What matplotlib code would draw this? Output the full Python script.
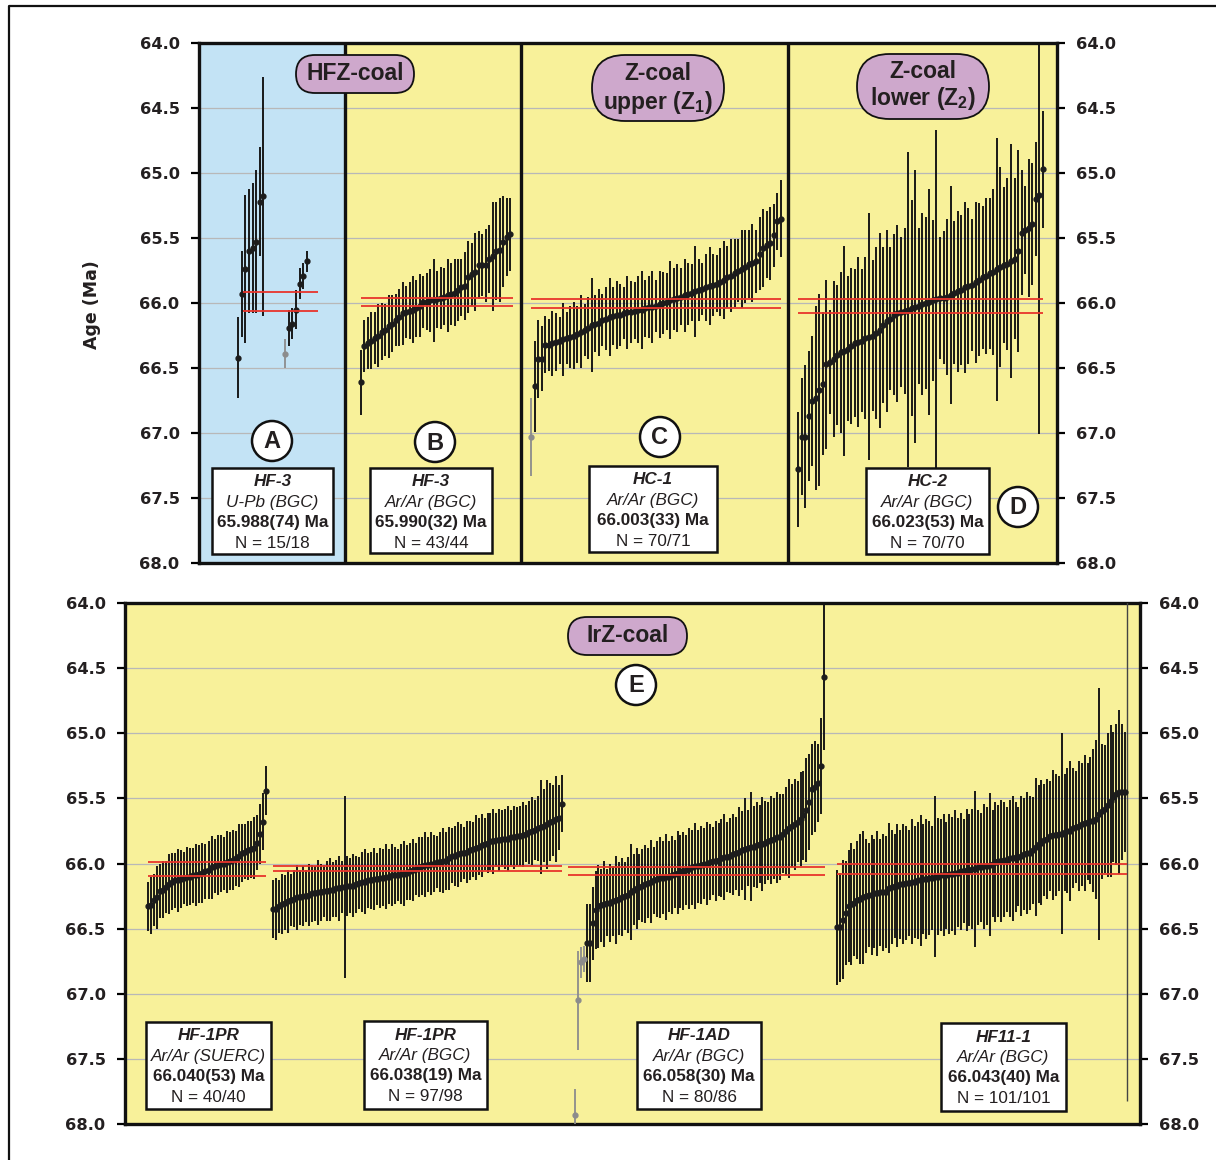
import numpy as np
import matplotlib
matplotlib.use("Agg")
import matplotlib.pyplot as plt
from matplotlib.patches import Rectangle, Circle, FancyBboxPatch

plt.rcParams['font.family'] = ['Liberation Sans', 'DejaVu Sans']
plt.rcParams['mathtext.fontset'] = 'custom'
plt.rcParams['mathtext.rm'] = 'Liberation Sans:bold'
plt.rcParams['mathtext.bf'] = 'Liberation Sans:bold'

# ---------------- data (ages in Ma, 2-sigma style error half-widths) ----------------
# A: HF-3 U-Pb (slot = analysis position in the sequence)
a_slot = [0, 1, 2, 3, 4, 5, 6, 7, 13, 14, 15, 16, 17, 18, 19]
a_age = [66.42, 65.93, 65.74, 65.60, 65.58, 65.53, 65.22, 65.18,
         66.39, 66.19, 66.16, 66.05, 65.85, 65.79, 65.68]
a_err = [0.31, 0.33, 0.57, 0.48, 0.50, 0.55, 0.42, 0.92,
         0.11, 0.14, 0.12, 0.15, 0.12, 0.10, 0.08]
a_rej = [8]

# B: HF-3 Ar/Ar
b_age = [66.61, 66.33, 66.31, 66.29, 66.27, 66.25, 66.22, 66.21, 66.18, 66.16,
         66.13, 66.11, 66.08, 66.07, 66.06, 66.05, 66.04, 66.02, 65.99, 65.99,
         65.98, 65.98, 65.97, 65.96, 65.95, 65.94, 65.93, 65.92, 65.90, 65.88,
         65.87, 65.80, 65.78, 65.76, 65.71, 65.71, 65.71, 65.66, 65.64, 65.60,
         65.59, 65.53, 65.49, 65.47]
b_err = [0.25, 0.20, 0.20, 0.22, 0.20, 0.24, 0.22, 0.20, 0.24, 0.22,
         0.20, 0.22, 0.24, 0.20, 0.22, 0.26, 0.22, 0.24, 0.20, 0.22,
         0.24, 0.32, 0.22, 0.24, 0.22, 0.28, 0.24, 0.26, 0.24, 0.22,
         0.26, 0.28, 0.24, 0.30, 0.26, 0.24, 0.28, 0.26, 0.42, 0.38,
         0.40, 0.35, 0.30, 0.28]

# C: HC-1 Ar/Ar
c_age = [67.03, 66.64, 66.43, 66.43, 66.32, 66.32, 66.31, 66.30, 66.29, 66.28,
         66.27, 66.26, 66.25, 66.24, 66.22, 66.21, 66.19, 66.17, 66.16, 66.15,
         66.13, 66.12, 66.11, 66.10, 66.09, 66.09, 66.08, 66.07, 66.07, 66.06,
         66.05, 66.05, 66.04, 66.03, 66.03, 66.02, 66.01, 66.00, 65.99, 65.98,
         65.97, 65.96, 65.95, 65.94, 65.93, 65.92, 65.91, 65.90, 65.89, 65.88,
         65.87, 65.86, 65.85, 65.84, 65.82, 65.80, 65.79, 65.77, 65.75, 65.74,
         65.72, 65.70, 65.69, 65.68, 65.62, 65.58, 65.55, 65.54, 65.48, 65.37,
         65.35]
c_err = [0.30, 0.35, 0.30, 0.25, 0.22, 0.20, 0.25, 0.22, 0.18, 0.28,
         0.20, 0.24, 0.26, 0.22, 0.28, 0.20, 0.24, 0.36, 0.22, 0.26,
         0.20, 0.24, 0.30, 0.22, 0.26, 0.24, 0.20, 0.28, 0.24, 0.22,
         0.26, 0.30, 0.22, 0.24, 0.28, 0.20, 0.26, 0.24, 0.22, 0.30,
         0.24, 0.26, 0.22, 0.28, 0.24, 0.22, 0.35, 0.24, 0.20, 0.26,
         0.30, 0.24, 0.22, 0.26, 0.30, 0.24, 0.28, 0.26, 0.24, 0.30,
         0.28, 0.26, 0.30, 0.24, 0.28, 0.30, 0.26, 0.28, 0.24, 0.22, 0.30]
c_rej = [0]

# D: HC-2 Ar/Ar
d_age = [67.28, 67.03, 67.03, 66.87, 66.75, 66.73, 66.67, 66.62, 66.47, 66.45,
         66.43, 66.40, 66.38, 66.37, 66.35, 66.33, 66.31, 66.30, 66.29, 66.27,
         66.26, 66.25, 66.23, 66.21, 66.17, 66.14, 66.12, 66.09, 66.08, 66.07,
         66.06, 66.05, 66.04, 66.03, 66.02, 66.01, 66.00, 65.99, 65.98, 65.97,
         65.96, 65.96, 65.95, 65.94, 65.92, 65.91, 65.90, 65.88, 65.87, 65.86,
         65.84, 65.82, 65.80, 65.79, 65.77, 65.76, 65.74, 65.72, 65.71, 65.70,
         65.68, 65.66, 65.60, 65.46, 65.44, 65.42, 65.39, 65.20, 65.17, 64.97]
d_err = [0.44, 0.45, 0.55, 0.50, 0.50, 0.71, 0.74, 0.55, 0.65, 0.40,
         0.60, 0.54, 0.62, 0.81, 0.56, 0.60, 0.57, 0.65, 0.55, 0.62,
         0.95, 0.58, 0.66, 0.75, 0.60, 0.70, 0.55, 0.62, 0.68, 0.58,
         0.64, 1.21, 0.83, 1.05, 0.60, 0.70, 0.66, 0.87, 0.62, 1.30,
         0.47, 0.51, 0.60, 0.84, 0.55, 0.62, 0.58, 0.66, 0.60, 0.51,
         0.62, 0.59, 0.55, 0.60, 0.58, 0.64, 1.01, 0.77, 0.60, 0.66,
         0.90, 0.62, 0.78, 0.48, 0.34, 0.53, 0.47, 0.44, 1.84, 0.45]

# E1: HF-1PR Ar/Ar (SUERC)
e1_age = [66.33, 66.32, 66.28, 66.26, 66.21, 66.20, 66.18, 66.16, 66.14, 66.13,
          66.13, 66.12, 66.11, 66.10, 66.10, 66.09, 66.09, 66.08, 66.07, 66.06,
          66.05, 66.03, 66.02, 66.01, 66.00, 66.00, 65.99, 65.98, 65.97, 65.96,
          65.94, 65.92, 65.91, 65.90, 65.89, 65.88, 65.84, 65.77, 65.68, 65.44]
e1_err = [0.19, 0.22, 0.20, 0.24, 0.21, 0.22, 0.20, 0.23, 0.22, 0.21,
          0.24, 0.22, 0.20, 0.23, 0.22, 0.21, 0.24, 0.22, 0.23, 0.21,
          0.22, 0.24, 0.21, 0.23, 0.22, 0.20, 0.24, 0.22, 0.23, 0.21,
          0.24, 0.22, 0.21, 0.23, 0.22, 0.24, 0.21, 0.23, 0.22, 0.19]

# E2: HF-1PR Ar/Ar (BGC)
e2_age = [66.35, 66.35, 66.33, 66.31, 66.30, 66.29, 66.28, 66.27, 66.26, 66.26,
          66.25, 66.25, 66.24, 66.23, 66.23, 66.22, 66.22, 66.21, 66.21, 66.20,
          66.20, 66.19, 66.19, 66.18, 66.18, 66.17, 66.17, 66.17, 66.16, 66.15,
          66.14, 66.14, 66.13, 66.13, 66.12, 66.12, 66.11, 66.11, 66.10, 66.10,
          66.09, 66.09, 66.09, 66.08, 66.08, 66.07, 66.06, 66.05, 66.04, 66.03,
          66.02, 66.01, 66.01, 66.00, 66.00, 65.99, 65.99, 65.98, 65.98, 65.96,
          65.94, 65.94, 65.93, 65.92, 65.92, 65.91, 65.90, 65.89, 65.88, 65.87,
          65.86, 65.85, 65.84, 65.83, 65.83, 65.82, 65.82, 65.81, 65.81, 65.81,
          65.80, 65.80, 65.79, 65.79, 65.78, 65.77, 65.76, 65.75, 65.74, 65.73,
          65.72, 65.71, 65.70, 65.68, 65.67, 65.66, 65.65, 65.54]
e2_err = [0.22, 0.24, 0.20, 0.23, 0.21, 0.24, 0.20, 0.22, 0.25, 0.21,
          0.23, 0.20, 0.24, 0.22, 0.21, 0.25, 0.22, 0.20, 0.23, 0.24,
          0.21, 0.22, 0.25, 0.20, 0.70, 0.23, 0.21, 0.24, 0.22, 0.20,
          0.23, 0.25, 0.21, 0.22, 0.24, 0.20, 0.23, 0.22, 0.25, 0.21,
          0.24, 0.22, 0.20, 0.23, 0.25, 0.21, 0.22, 0.24, 0.20, 0.23,
          0.22, 0.25, 0.21, 0.24, 0.22, 0.20, 0.23, 0.25, 0.22, 0.24,
          0.21, 0.23, 0.25, 0.22, 0.20, 0.24, 0.23, 0.21, 0.25, 0.22,
          0.24, 0.20, 0.23, 0.22, 0.25, 0.21, 0.24, 0.22, 0.23, 0.25,
          0.21, 0.24, 0.22, 0.23, 0.25, 0.22, 0.24, 0.26, 0.23, 0.25,
          0.36, 0.28, 0.34, 0.30, 0.27, 0.33, 0.25, 0.22]

# E3: HF-1AD Ar/Ar (BGC)
e3_age = [67.93, 67.05, 66.76, 66.73,
          66.61, 66.61, 66.46, 66.36, 66.33, 66.32, 66.31, 66.30, 66.30, 66.29,
          66.28, 66.27, 66.26, 66.25, 66.24, 66.22, 66.20, 66.19, 66.18, 66.17,
          66.16, 66.15, 66.14, 66.13, 66.12, 66.11, 66.11, 66.10, 66.10, 66.09,
          66.08, 66.07, 66.06, 66.06, 66.05, 66.04, 66.03, 66.02, 66.02, 66.01,
          66.00, 66.00, 65.99, 65.98, 65.98, 65.97, 65.96, 65.95, 65.95, 65.94,
          65.93, 65.92, 65.91, 65.90, 65.89, 65.88, 65.87, 65.87, 65.86, 65.85,
          65.85, 65.84, 65.83, 65.82, 65.81, 65.80, 65.80, 65.77, 65.75, 65.73,
          65.71, 65.70, 65.68, 65.66, 65.63, 65.59, 65.53, 65.43, 65.41, 65.38,
          65.25, 64.57]
e3_err = [0.20, 0.38, 0.12, 0.10,
          0.30, 0.30, 0.28, 0.30, 0.32, 0.28, 0.33, 0.26, 0.30, 0.27,
          0.34, 0.28, 0.30, 0.26, 0.29, 0.37, 0.27, 0.31, 0.25, 0.28,
          0.30, 0.27, 0.32, 0.26, 0.29, 0.31, 0.28, 0.33, 0.27, 0.30,
          0.26, 0.32, 0.28, 0.30, 0.27, 0.31, 0.29, 0.33, 0.28, 0.30,
          0.27, 0.32, 0.29, 0.26, 0.31, 0.28, 0.30, 0.33, 0.27, 0.29,
          0.31, 0.28, 0.34, 0.30, 0.39, 0.29, 0.42, 0.31, 0.33, 0.30,
          0.36, 0.32, 0.30, 0.34, 0.31, 0.35, 0.33, 0.30, 0.34, 0.38,
          0.32, 0.35, 0.31, 0.36, 0.34, 0.40, 0.37, 0.35, 0.35, 0.30,
          0.37, 0.56]
e3_rej = [0, 1, 2, 3]

# E4: HF11-1 Ar/Ar (BGC)
e4_age = [66.49, 66.49, 66.43, 66.38, 66.33, 66.31, 66.30, 66.28, 66.27, 66.26,
          66.25, 66.24, 66.24, 66.23, 66.23, 66.22, 66.22, 66.22, 66.19, 66.18,
          66.17, 66.17, 66.16, 66.16, 66.15, 66.15, 66.14, 66.14, 66.13, 66.13,
          66.12, 66.12, 66.11, 66.11, 66.10, 66.10, 66.09, 66.09, 66.09, 66.08,
          66.08, 66.07, 66.07, 66.06, 66.06, 66.05, 66.05, 66.04, 66.04, 66.03,
          66.03, 66.02, 66.02, 66.01, 66.00, 65.99, 65.98, 65.98, 65.97, 65.97,
          65.96, 65.96, 65.95, 65.95, 65.94, 65.93, 65.92, 65.92, 65.90, 65.87,
          65.85, 65.84, 65.82, 65.81, 65.79, 65.78, 65.78, 65.77, 65.77, 65.76,
          65.75, 65.75, 65.73, 65.72, 65.71, 65.70, 65.69, 65.68, 65.67, 65.67,
          65.66, 65.62, 65.60, 65.58, 65.55, 65.52, 65.49, 65.47, 65.45, 65.45,
          65.45]
e4_err = [0.44, 0.42, 0.46, 0.40, 0.43, 0.47, 0.41, 0.45, 0.50, 0.51,
          0.44, 0.40, 0.46, 0.42, 0.48, 0.41, 0.45, 0.43, 0.50, 0.44,
          0.40, 0.47, 0.42, 0.46, 0.44, 0.41, 0.48, 0.43, 0.45, 0.50,
          0.42, 0.46, 0.44, 0.40, 0.62, 0.45, 0.43, 0.47, 0.41, 0.46,
          0.44, 0.48, 0.42, 0.45, 0.40, 0.47, 0.43, 0.46, 0.60, 0.44,
          0.42, 0.48, 0.45, 0.55, 0.41, 0.46, 0.43, 0.47, 0.44, 0.40,
          0.45, 0.48, 0.42, 0.38, 0.46, 0.43, 0.47, 0.44, 0.41, 0.53,
          0.45, 0.48, 0.43, 0.46, 0.42, 0.50, 0.47, 0.44, 0.77, 0.45,
          0.48, 0.54, 0.46, 0.43, 0.50, 0.47, 0.52, 0.45, 0.49, 0.55,
          0.61, 0.97, 0.52, 0.49, 0.55, 0.58, 0.50, 0.54, 0.63, 0.52,
          0.46]
e4_extra_age = [65.90]
e4_extra_err = [1.92]

# weighted means shown in the boxes (Ma) and their uncertainties
means = [65.988, 65.990, 66.003, 66.023, 66.040, 66.038, 66.058, 66.043]
uncs = [0.074, 0.032, 0.033, 0.053, 0.053, 0.019, 0.030, 0.040]
samples = ['HF-3', 'HF-3', 'HC-1', 'HC-2', 'HF-1PR', 'HF-1PR', 'HF-1AD', 'HF11-1']
methods = ['U-Pb (BGC)', 'Ar/Ar (BGC)', 'Ar/Ar (BGC)', 'Ar/Ar (BGC)',
           'Ar/Ar (SUERC)', 'Ar/Ar (BGC)', 'Ar/Ar (BGC)', 'Ar/Ar (BGC)']
n_used = ['15/18', '43/44', '70/71', '70/70', '40/40', '97/98', '80/86', '101/101']

y_ticks = [64.0, 64.5, 65.0, 65.5, 66.0, 66.5, 67.0, 67.5, 68.0]

# ---------------- style ----------------
YELLOW = '#f8f19a'
BLUE = '#c3e3f5'
PURPLE = '#cea8cc'
RED = '#e8352c'
INK = '#231f20'
GRAY = '#8c8c8c'

W, H = 1216, 1160
fig = plt.figure(figsize=(W / 100, H / 100), dpi=100)


def px_rect(x0, y0, x1, y1):
    return [x0 / W, 1 - y1 / H, (x1 - x0) / W, (y1 - y0) / H]


ax_top = fig.add_axes(px_rect(199, 43, 1057, 563))
ax_bot = fig.add_axes(px_rect(125, 603, 1140, 1124))

for ax, width in ((ax_top, 858), (ax_bot, 1015)):
    ax.set_facecolor(YELLOW)
    ax.set_xlim(0, width)
    ax.set_ylim(68, 64)
    ax.set_xticks([])
    ax.set_yticks(y_ticks)
    ax.set_yticklabels([f'{t:.1f}' for t in y_ticks], fontfamily='DejaVu Sans',
                       fontweight='bold', color=INK)
    ax.tick_params(axis='y', left=True, right=True, labelleft=True, labelright=True,
                   direction='out', length=6, width=1.6, pad=8, labelsize=11.7)
    for y in y_ticks:
        ax.axhline(y, color='#b8b8b8', lw=0.9, zorder=0.5)
    for s in ax.spines.values():
        s.set_linewidth(2.4)
        s.set_color('#111111')


def plot_group(ax, x0, x1, age, err, slots=None, rejected=()):
    age = np.asarray(age)
    err = np.asarray(err)
    idx = np.arange(len(age)) if slots is None else np.asarray(slots)
    x = x0 + (x1 - x0) * idx / idx.max()
    keep = np.ones(len(age), bool)
    keep[list(rejected)] = False
    ax.errorbar(x[keep], age[keep], yerr=err[keep], fmt='o', ms=3.5, color='#1c1c1c',
                ecolor='#111111', elinewidth=1.35, capsize=0, zorder=3)
    if (~keep).any():
        ax.errorbar(x[~keep], age[~keep], yerr=err[~keep], fmt='o', ms=3.5, color=GRAY,
                    ecolor=GRAY, elinewidth=1.3, capsize=0, zorder=3)


def mean_lines(ax, k, x0, x1):
    ax.hlines([means[k] - uncs[k], means[k] + uncs[k]], x0, x1, color=RED, lw=1.3, zorder=4)


# top panel: blue HFZ section and dividers
ax_top.axvspan(0, 146, color=BLUE, zorder=0)
for xd in (146, 322, 589):
    ax_top.axvline(xd, color='#111111', lw=2.4, zorder=5)

plot_group(ax_top, 39, 108, a_age, a_err, slots=a_slot, rejected=a_rej)
plot_group(ax_top, 162, 311, b_age, b_err)
plot_group(ax_top, 332, 582, c_age, c_err, rejected=c_rej)
plot_group(ax_top, 599, 844, d_age, d_err)
mean_lines(ax_top, 0, 44, 119)
mean_lines(ax_top, 1, 162, 314)
mean_lines(ax_top, 2, 332, 582)
mean_lines(ax_top, 3, 599, 844)

# bottom panel
plot_group(ax_bot, 23, 141, e1_age, e1_err)
plot_group(ax_bot, 148, 437, e2_age, e2_err)
plot_group(ax_bot, 450, 699, e3_age, e3_err, rejected=e3_rej)
plot_group(ax_bot, 712, 1000, e4_age, e4_err)
ax_bot.errorbar([1002], e4_extra_age, yerr=e4_extra_err, fmt='none', ecolor='#444444',
                elinewidth=1.0, capsize=0, zorder=3)
mean_lines(ax_bot, 4, 23, 141)
mean_lines(ax_bot, 5, 148, 437)
mean_lines(ax_bot, 6, 443, 700)
mean_lines(ax_bot, 7, 712, 1002)

# ---------------- overlay annotations (pixel coordinates) ----------------
ov = fig.add_axes([0, 0, 1, 1])
ov.set_xlim(0, W)
ov.set_ylim(H, 0)
ov.axis('off')

ov.plot([9, 9, W], [H, 6, 6], color='#111111', lw=1.6)

ov.text(92, 305, 'Age (Ma)', rotation=90, ha='center', va='center', fontsize=12.5,
        fontweight='bold', family='DejaVu Sans', color=INK)


def pill(x0, y0, x1, y1, lines):
    r = min(x1 - x0, y1 - y0) / 2
    ov.add_patch(FancyBboxPatch((x0, y0), x1 - x0, y1 - y0,
                                boxstyle=f'round,pad=0,rounding_size={r}',
                                fc=PURPLE, ec='#111111', lw=1.3, zorder=5))
    for txt, yy in lines:
        ov.text((x0 + x1) / 2, yy, txt, ha='center', va='center', fontsize=16.5,
                fontweight='bold', color=INK, zorder=6)


pill(296, 55, 414, 93, [('HFZ-coal', 74)])
pill(592, 55, 724, 121, [('Z-coal', 73), ('upper (Z$_1$)', 102)])
pill(857, 54, 989, 119, [('Z-coal', 71), ('lower (Z$_2$)', 99)])
pill(568, 617, 687, 655, [('IrZ-coal', 636)])


def badge(x, y, letter):
    ov.add_patch(Circle((x, y), 20, fc='white', ec='#111111', lw=1.8, zorder=5))
    ov.text(x, y + 1, letter, ha='center', va='center', fontsize=17, fontweight='bold',
            color=INK, zorder=6)


badge(272, 441, 'A')
badge(435, 442, 'B')
badge(660, 437, 'C')
badge(1018, 507, 'D')
badge(636, 685, 'E')


def info_box(k, x0, y0, x1, y1):
    ov.add_patch(Rectangle((x0, y0), x1 - x0, y1 - y0, fc='white', ec='#111111',
                           lw=1.8, zorder=5))
    cx = (x0 + x1) / 2
    rows = [(samples[k], 'bold', 'italic'),
            (methods[k], 'normal', 'italic'),
            (f'{means[k]:.3f}({round(uncs[k] * 1000)}) Ma', 'bold', 'normal'),
            (f'N = {n_used[k]}', 'normal', 'normal')]
    for j, (txt, wt, st) in enumerate(rows):
        ov.text(cx, y0 + 14 + 20.4 * j, txt, ha='center', va='center', fontsize=12.3,
                fontweight=wt, fontstyle=st, color=INK, zorder=6)


info_box(0, 212, 468, 333, 554)
info_box(1, 370, 468, 492, 553)
info_box(2, 589, 466, 717, 552)
info_box(3, 866, 468, 989, 554)
info_box(4, 146, 1022, 271, 1109)
info_box(5, 364, 1021, 487, 1109)
info_box(6, 637, 1022, 761, 1109)
info_box(7, 941, 1023, 1066, 1111)

fig.savefig('out.png', dpi=100)
